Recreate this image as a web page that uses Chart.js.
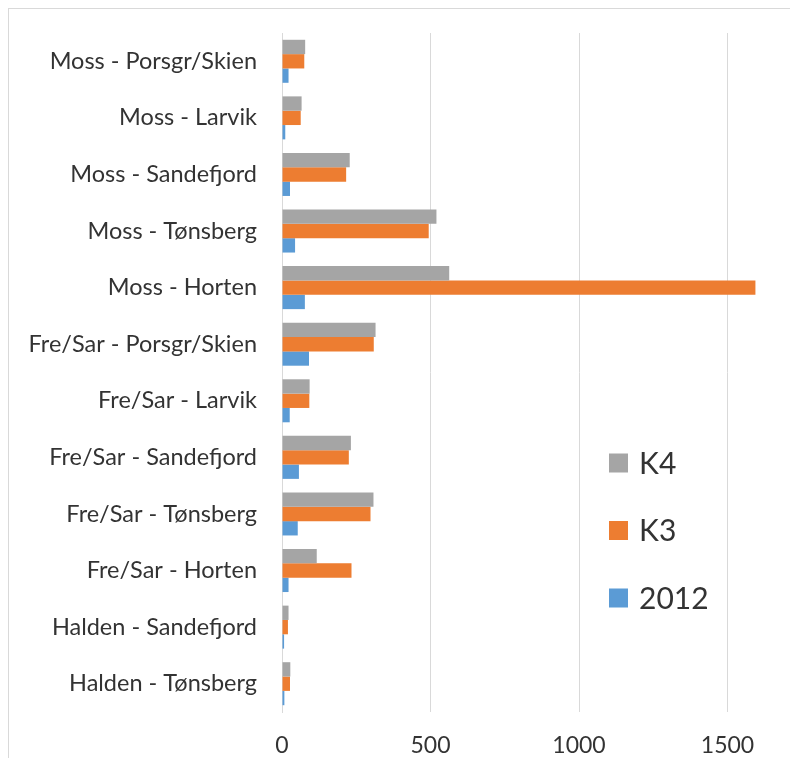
<!DOCTYPE html>
<html>
<head>
<meta charset="utf-8">
<script src="https://cdn.jsdelivr.net/npm/chart.js@4.4.1/dist/chart.umd.min.js"></script>
<style>
  html, body { margin: 0; padding: 0; background: #ffffff; overflow: hidden; width: 790px; height: 758px; }
  #frame { position: absolute; left: 8px; top: 8px; width: 900px; height: 800px; border: 1px solid #d9d9d9; box-sizing: border-box; }
  #chart { position: absolute; left: 0; top: 0; }
</style>
</head>
<body>
<div id="frame"></div>
<canvas id="chart" width="900" height="758"></canvas>
<script>
// Routes, listed top to bottom
const routes = [
  'Moss - Porsgr/Skien',
  'Moss - Larvik',
  'Moss - Sandefjord',
  'Moss - Tønsberg',
  'Moss - Horten',
  'Fre/Sar - Porsgr/Skien',
  'Fre/Sar - Larvik',
  'Fre/Sar - Sandefjord',
  'Fre/Sar - Tønsberg',
  'Fre/Sar - Horten',
  'Halden - Sandefjord',
  'Halden - Tønsberg'
];

// Series values per route
const k4 = [78, 66, 228, 520, 563, 315, 93, 232, 308, 117, 22, 28];
const k3 = [75, 63, 216, 494, 1594, 309, 92, 225, 298, 234, 20, 27];
const y2012 = [22, 11, 27, 44, 77, 91, 26, 57, 53, 22, 7, 8];

// Value axis ticks
const xTicks = [0, 500, 1000, 1500];

const seriesNames = ['K4', 'K3', '2012'];
const seriesColors = ['#a5a5a5', '#ed7d31', '#5b9bd5'];

const FONT = 'Lato, "Open Sans", sans-serif';
const TEXT = '#333333';

// Legend drawn inside the plot area, stacked vertically
const insideLegend = {
  id: 'insideLegend',
  afterDraw(chart) {
    const ctx = chart.ctx;
    const area = chart.chartArea;
    const x0 = area.left + 327;
    const y0 = area.top + 430;
    const rowGap = 67.5;
    const box = 19;
    ctx.save();
    ctx.font = '30px ' + FONT;
    ctx.textBaseline = 'middle';
    ctx.textAlign = 'left';
    chart.data.datasets.forEach((ds, i) => {
      const cy = y0 + i * rowGap;
      ctx.fillStyle = ds.backgroundColor;
      ctx.fillRect(x0, cy - box / 2, box, box);
      ctx.fillStyle = TEXT;
      ctx.fillText(ds.label, x0 + box + 11, cy + 1);
    });
    ctx.restore();
  }
};

new Chart(document.getElementById('chart'), {
  type: 'bar',
  data: {
    labels: routes,
    datasets: [
      { label: seriesNames[0], data: k4, backgroundColor: seriesColors[0] },
      { label: seriesNames[1], data: k3, backgroundColor: seriesColors[1] },
      { label: seriesNames[2], data: y2012, backgroundColor: seriesColors[2] }
    ]
  },
  options: {
    indexAxis: 'y',
    responsive: false,
    animation: false,
    devicePixelRatio: 1,
    layout: { padding: { top: 33, left: 0, right: 24, bottom: 0 } },
    datasets: { bar: { categoryPercentage: 0.76, barPercentage: 1.0, borderWidth: 0 } },
    plugins: {
      legend: { display: false },
      tooltip: { enabled: false }
    },
    scales: {
      x: {
        type: 'linear',
        min: 0,
        max: 2000,
        afterFit(scale) {
          scale.height = 46;
          scale.paddingLeft = 0;
          scale.paddingRight = 0;
        },
        afterBuildTicks(scale) { scale.ticks = xTicks.map(v => ({ value: v })); },
        grid: { color: '#d9d9d9', lineWidth: 1, drawTicks: false },
        border: { display: false },
        ticks: {
          padding: 20,
          color: TEXT,
          font: { family: FONT, size: 23 },
          callback: (v) => String(v)
        }
      },
      y: {
        afterFit(scale) {
          scale.width = 282;
          scale.paddingTop = 0;
          scale.paddingBottom = 0;
        },
        grid: { display: false, drawTicks: false },
        border: { display: true, color: '#d9d9d9', width: 1 },
        ticks: { padding: 25, color: TEXT, font: { family: FONT, size: 23.5 } }
      }
    }
  },
  plugins: [insideLegend]
});
</script>
</body>
</html>
